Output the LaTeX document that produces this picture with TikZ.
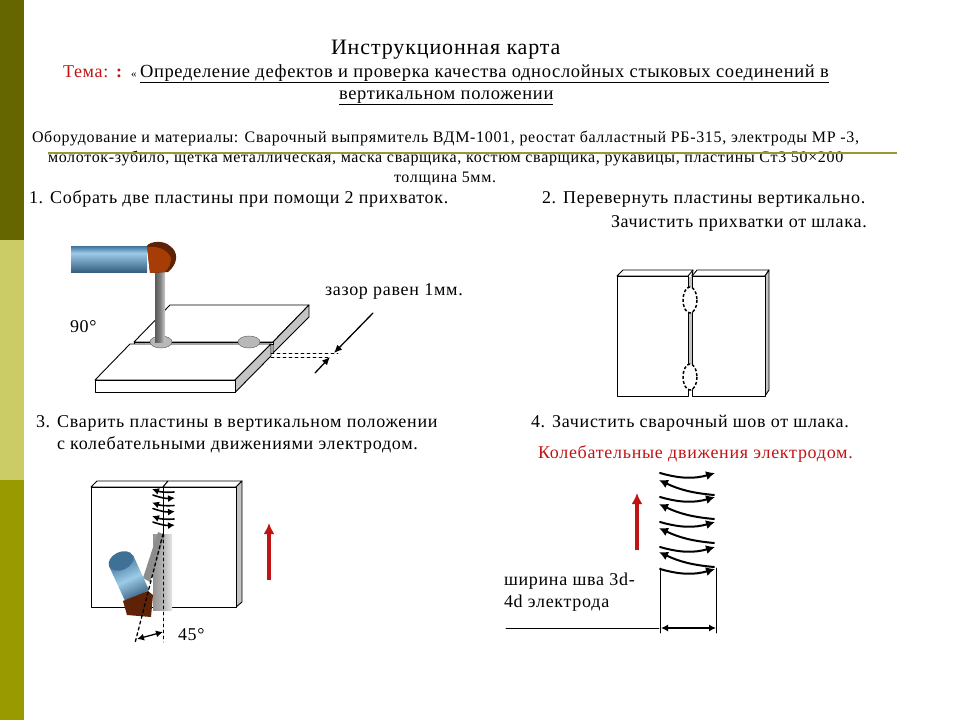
\documentclass[tikz,border=0pt]{standalone}
\usepackage{fontspec}
\setmainfont{Liberation Serif}
\usetikzlibrary{arrows.meta}
\definecolor{barone}{HTML}{666600}
\definecolor{bartwo}{HTML}{CCCC66}
\definecolor{barthree}{HTML}{999900}
\definecolor{ruleline}{HTML}{999933}
\definecolor{sidegray}{HTML}{C4C4C4}
\definecolor{steelblue}{HTML}{3F7096}
\definecolor{lightblue}{HTML}{9CCBE8}
\definecolor{darkbrown}{HTML}{5E2206}
\definecolor{rust}{HTML}{A63C06}
\definecolor{redarrow}{HTML}{C01414}
\tikzset{
  txt/.style={anchor=base west,inner sep=0pt,outer sep=0pt,font=\fontsize{18}{20}\selectfont\addfontfeature{LetterSpace=4}},
  big/.style={txt,font=\fontsize{22}{24}\selectfont\addfontfeature{LetterSpace=4}},
  topic/.style={txt,font=\fontsize{18.5}{20}\selectfont\addfontfeature{LetterSpace=3.6}},
  small/.style={txt,font=\fontsize{16}{18}\selectfont\addfontfeature{LetterSpace=4.2}},
  plate/.style={draw=black,fill=white,line width=0.9pt},
  sideface/.style={draw=black,fill=sidegray,line width=0.9pt},
  tack/.style={draw=black!60,fill=black!28,line width=0.5pt},
  dim/.style={-{Latex[length=8pt,width=7pt]},line width=1.3pt},
  swing/.style={-{Latex[length=7pt,width=7pt]},line width=1.6pt},
  bigswing/.style={-{Latex[length=9pt,width=9pt]},line width=2pt},
  both/.style={{Latex[length=7pt,width=7pt]}-{Latex[length=7pt,width=7pt]},line width=1.3pt},
  upred/.style={-{Latex[length=11pt,width=11pt]},draw=redarrow,line width=3.8pt,line cap=butt},
  spot/.style={draw=black,fill=white,line width=1.5pt,dash pattern=on 3pt off 2pt,line cap=butt}
}
\begin{document}
\begin{tikzpicture}[x=1pt,y=-1pt,line cap=round,line join=round]
  \useasboundingbox (0,0) rectangle (960,720);
  \fill[barone] (0,0) rectangle (24,240);
  \fill[bartwo] (0,240) rectangle (24,480);
  \fill[barthree] (0,480) rectangle (24,720);
  % texts
  \node[big] (title) at (331,54) {Инструкционная карта};
  \node[txt,text=redarrow] (theme) at (63,77) {Тема: \textbf{:}};
  \node[txt,font=\fontsize{11}{12}\selectfont] (quote) at (131,77) {«};
  \node[topic] (topicA) at (140,77) {\underline{Определение дефектов и проверка качества  однослойных  стыковых соединений в}};
  \node[topic] (topicB) at (339,99) {\underline{вертикальном положении}};
  \node[small] (tools) at (32,142) {Оборудование и материалы: Сварочный выпрямитель ВДМ-1001, реостат балластный РБ-315, электроды МР -3,};
  \node[small] (toolsB) at (48,162) {молоток-зубило, щетка металлическая, маска сварщика, костюм сварщика, рукавицы, пластины Ст3 50×200};
  \node[small] (toolsC) at (394,182) {толщина 5мм.};
  \node[txt] (stepA) at (29,203) {1. Собрать две пластины при помощи 2 прихваток.};
  \node[txt] (stepB) at (542,203) {2. Перевернуть пластины  вертикально.};
  \node[txt] (stepBb) at (611,227) {Зачистить прихватки от шлака.};
  \node[txt] (stepC) at (36,427) {3. Сварить пластины в вертикальном положении};
  \node[txt] (stepCb) at (57,449) {с колебательными движениями электродом.};
  \node[txt] (stepD) at (531,427) {4. Зачистить сварочный шов от шлака.};
  \node[txt,text=redarrow] (swingtext) at (538,458) {Колебательные движения электродом.};
  \node[txt] (gap) at (325,295) {зазор равен 1мм.};
  \node[txt] (angleA) at (70,332) {90°};
  \node[txt] (angleB) at (178,640) {45°};
  \node[txt] (widthA) at (504,585) {ширина шва 3d-};
  \node[txt] (widthB) at (504,607) {4d электрода};
  \draw[ruleline,line width=2pt,line cap=butt] (48,153) -- (897,153);
  % picture 1
  \draw[plate] (170,305) -- (309,305) -- (273,342) -- (134,342) -- cycle;
  \draw[sideface] (309,305) -- (309,317) -- (273,353) -- (273,342) -- cycle;
  \draw[plate] (134,342) -- (273,342) -- (273,344) -- (134,344) -- cycle;
  \draw[plate] (130,344) -- (271,344) -- (235,380) -- (95,380) -- cycle;
  \draw[sideface] (271,344) -- (271,356) -- (235,392.5) -- (235,380) -- cycle;
  \draw[plate] (95,380) rectangle (235,392.5);
  \draw[tack] (161,342) ellipse (11 and 6);
  \draw[tack] (249,342) ellipse (11 and 6);
  \shade[left color=black!65,right color=black!20,middle color=black!50] (155,272) rectangle (165,342);
  \shade[top color=steelblue,bottom color=lightblue] (71,246) rectangle (147,253);
  \shade[top color=lightblue,bottom color=steelblue!85!black] (71,253) rectangle (147,272);
  \fill[darkbrown] (147,246) .. controls (150,241) and (164,240) .. (170,246) .. controls (179,252) and (178,264) .. (168,272) -- (150,273) -- cycle;
  \fill[rust] (147,247) .. controls (155,246) and (167,248) .. (171,258) .. controls (171,264) and (169,268) .. (165,272) -- (150,273) -- cycle;
  \coordinate (gapA) at (271,353);
  \coordinate (gapB) at (338,353);
  \coordinate (gapC) at (271,357);
  \coordinate (gapD) at (330,357);
  \coordinate (tailA) at (373,313);
  \coordinate (tailB) at (315,373);
  \draw[dashed,line width=0.7pt] (gapA) -- (gapB);
  \draw[dashed,line width=0.7pt] (gapC) -- (gapD);
  \draw[dim] (tailA) -- (334,353);
  \draw[dim] (tailB) -- (gapD);
  % picture 2
  \draw[plate] (617,276) -- (623,270) -- (693,270) -- (688,276) -- cycle;
  \draw[plate] (692,276) -- (697,270) -- (769,270) -- (765,276) -- cycle;
  \draw[sideface] (769,270) -- (769,390) -- (765,396) -- (765,276) -- cycle;
  \draw[plate] (617,276) rectangle (688,396);
  \draw[plate] (692,276) rectangle (765,396);
  \fill[sidegray] (688.5,276.5) rectangle (691.5,391);
  \draw[line width=0.9pt] (693,270) -- (692,276);
  \draw[spot] (690,300) ellipse (7 and 13);
  \draw[spot] (690,377) ellipse (7 and 13);
  % picture 3
  \draw[plate] (91,487) -- (97,481) -- (168,481) -- (163,487) -- cycle;
  \draw[plate] (163,487) -- (168,481) -- (242,481) -- (236,487) -- cycle;
  \draw[sideface] (242,481) -- (242,602) -- (236,607) -- (236,487) -- cycle;
  \draw[plate] (91,487) rectangle (236,607);
  \shade[left color=black!42,right color=black!10,middle color=black!30] (153,534) rectangle (172,610);
  \draw[line width=0.9pt] (163,487) -- (163,534);
  \foreach \y in {0,13.5,27} {
    \draw[swing] (174,492+\y) to[bend left=12] (152,489+\y);
    \draw[swing] (153,495+\y) to[bend right=12] (175,498+\y);
  }
  \fill[black!45] (158,532) -- (165,535) -- (150,582) -- (143,578) -- cycle;
  \shade[left color=steelblue,right color=steelblue!80!black,middle color=lightblue,shading angle=25] (109,566) -- (133,555) -- (149,590) -- (126,603) -- cycle;
  \fill[steelblue] (121,561) ellipse[x radius=13,y radius=9,rotate=25];
  \fill[darkbrown] (123,601) -- (148,591) -- (153,595) -- (151,617) -- (127,615) -- cycle;
  \coordinate (weldtop) at (163,534);
  \coordinate (leanend) at (135,643);
  \coordinate (plumbend) at (163,642);
  \draw[dashed,line width=1.3pt] (weldtop) -- (leanend);
  \draw[dashed,line width=0.7pt] (weldtop) -- (plumbend);
  \draw[both] (137,639) -- (163,632);
  \draw[upred] (269,580) -- (269,523);
  % picture 4
  \draw[upred,line width=4.6pt] (637,550) -- (637,493);
  \foreach \y in {473,497,522,547,569} {
    \draw[bigswing] (660,\y) to[bend right=16] (715,\y);
  }
  \foreach \y in {495,519,543,567} {
    \draw[bigswing] (714,\y) to[bend left=10] (659,\y-15);
  }
  \coordinate (widthL) at (660.5,568);
  \coordinate (widthR) at (716,568);
  \coordinate (widthLb) at (660.5,633);
  \coordinate (widthRb) at (716,633);
  \coordinate (base) at (506,628);
  \draw[line width=0.9pt] (widthL) -- (widthLb);
  \draw[line width=0.9pt] (widthR) -- (widthRb);
  \draw[line width=0.9pt] (base) -- (659,628);
  \draw[both] (661,628) -- (716,628);
\end{tikzpicture}
\end{document}
